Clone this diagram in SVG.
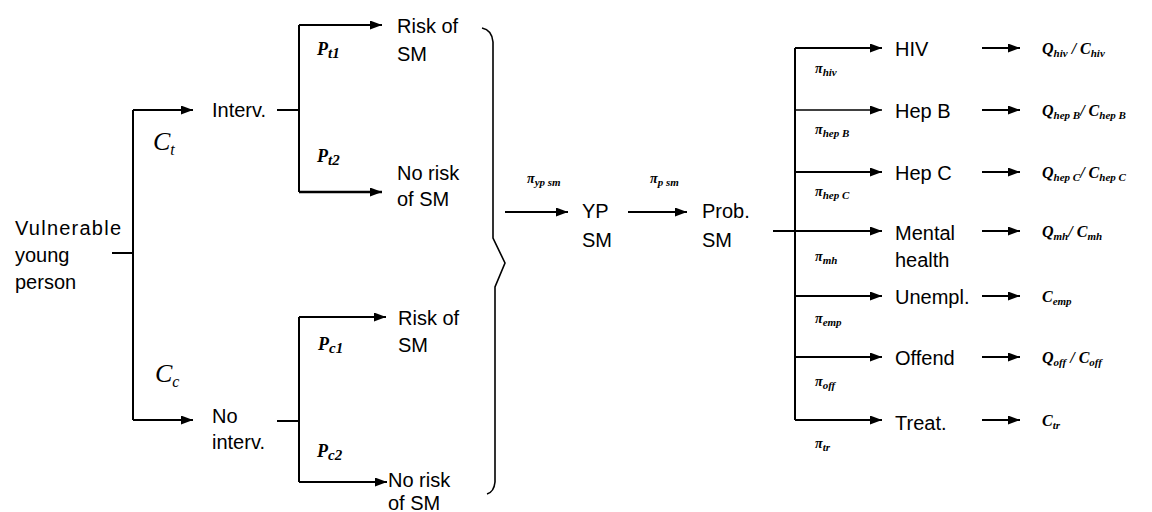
<svg xmlns="http://www.w3.org/2000/svg" width="1152" height="512" viewBox="0 0 1152 512">
<style>
.t{font-family:"Liberation Sans",Arial,sans-serif;font-size:20px;fill:#000}
.m{font-family:"Liberation Serif","Times New Roman",serif;font-style:italic;font-weight:bold;fill:#000}
.c{font-family:"Liberation Serif","Times New Roman",serif;font-style:italic;font-size:26px;fill:#000}
.l{stroke:#000;stroke-width:2;fill:none}
.a{stroke:#000;stroke-width:2;fill:none;marker-end:url(#ah)}
</style>
<defs>
<marker id="ah" markerUnits="userSpaceOnUse" markerWidth="12" markerHeight="9" refX="12" refY="4.5" orient="auto">
<path d="M0,0 L12,4.5 L0,9 Z" fill="#000"/>
</marker>
</defs>
<rect width="1152" height="512" fill="#fff"/>
<g id="connectors">
<path class="l" d="M112,253 H133"/>
<path class="l" d="M133,110 V420"/>
<path class="a" d="M133,110 H193"/>
<path class="a" d="M133,420 H193"/>
<path class="l" d="M277,110 H299"/>
<path class="l" d="M299,25 V192"/>
<path class="a" d="M299,25 H382"/>
<path class="a" d="M299,192 H382" style="stroke-width:2.6"/>
<path class="l" d="M277,421 H299"/>
<path class="l" d="M299,317 V482"/>
<path class="a" d="M299,317 H386"/>
<path class="a" d="M299,482 H387"/>
<path class="l" d="M482,28 Q492,30 493,42 V238 L505,263 L495,287 V482 Q494,492 487,494" style="stroke-width:1.6"/>
<path class="a" d="M505,212 H568"/>
<path class="a" d="M628,212 H687"/>
<path class="l" d="M773,231 H795"/>
<path class="l" d="M795,48 V420"/>
<path class="a" d="M795,48 H882"/>
<path class="a" d="M795,110 H882" style="stroke-width:1.6"/>
<path class="a" d="M795,172 H882"/>
<path class="a" d="M795,231 H882"/>
<path class="a" d="M795,296 H882"/>
<path class="a" d="M795,357 H882"/>
<path class="a" d="M795,420 H882"/>
<path class="a" d="M982,48 H1020"/>
<path class="a" d="M982,110 H1020"/>
<path class="a" d="M982,172 H1020"/>
<path class="a" d="M982,231 H1020"/>
<path class="a" d="M982,296 H1020"/>
<path class="a" d="M982,357 H1020"/>
<path class="a" d="M982,420 H1020"/>
</g>
<g id="n-vulnerable"><text class="t" x="15" y="235" textLength="106">Vulnerable</text><text class="t" x="15" y="262">young</text><text class="t" x="15" y="289">person</text></g>
<g id="n-interv"><text class="t" x="212" y="117">Interv.</text></g>
<g id="n-nointerv"><text class="t" x="212" y="423">No</text><text class="t" x="212" y="449">interv.</text></g>
<g id="l-ct"><text class="c" x="153" y="150">C<tspan font-size="16" dy="5">t</tspan></text></g>
<g id="l-cc"><text class="c" x="155" y="382">C<tspan font-size="16" dy="5">c</tspan></text></g>
<g id="n-risk1"><text class="t" x="397" y="33">Risk of</text><text class="t" x="397" y="61">SM</text></g>
<g id="n-norisk1"><text class="t" x="397" y="180">No risk</text><text class="t" x="397" y="206">of SM</text></g>
<g id="n-risk2"><text class="t" x="398" y="325">Risk of</text><text class="t" x="398" y="352">SM</text></g>
<g id="n-norisk2"><text class="t" x="388" y="487">No risk</text><text class="t" x="388" y="510">of SM</text></g>
<g id="l-p"><text class="m" x="317" y="55" font-size="18">P<tspan font-size="15" dy="3">t1</tspan></text>
<text class="m" x="317" y="162" font-size="18">P<tspan font-size="15" dy="3">t2</tspan></text>
<text class="m" x="318" y="350" font-size="18">P<tspan font-size="15" dy="3">c1</tspan></text>
<text class="m" x="317" y="457" font-size="18">P<tspan font-size="15" dy="3">c2</tspan></text></g>
<g id="l-pi"><text class="m" x="527" y="183" font-size="14">π<tspan font-size="11" dy="3">yp sm</tspan></text>
<text class="m" x="650" y="183" font-size="14">π<tspan font-size="11" dy="3">p sm</tspan></text></g>
<g id="n-ypsm"><text class="t" x="582" y="218">YP</text><text class="t" x="582" y="247">SM</text></g>
<g id="n-probsm"><text class="t" x="702" y="218">Prob.</text><text class="t" x="702" y="247">SM</text></g>
<g id="n-outcomes">
<text class="t" x="895" y="56">HIV</text>
<text class="t" x="895" y="118">Hep B</text>
<text class="t" x="895" y="180">Hep C</text>
<text class="t" x="895" y="240">Mental</text><text class="t" x="895" y="267">health</text>
<text class="t" x="895" y="304">Unempl.</text>
<text class="t" x="895" y="365">Offend</text>
<text class="t" x="895" y="430">Treat.</text>
</g>
<g id="l-pi-right">
<text class="m" x="815" y="73" font-size="14">π<tspan font-size="11" dy="3">hiv</tspan></text>
<text class="m" x="815" y="134" font-size="14">π<tspan font-size="11" dy="3">hep B</tspan></text>
<text class="m" x="815" y="196" font-size="14">π<tspan font-size="11" dy="3">hep C</tspan></text>
<text class="m" x="815" y="261" font-size="14">π<tspan font-size="11" dy="3">mh</tspan></text>
<text class="m" x="815" y="323" font-size="14">π<tspan font-size="11" dy="3">emp</tspan></text>
<text class="m" x="815" y="386" font-size="14">π<tspan font-size="11" dy="3">off</tspan></text>
<text class="m" x="815" y="448" font-size="14">π<tspan font-size="11" dy="3">tr</tspan></text>
</g>
<g id="n-values">
<text class="m" x="1042" y="54" font-size="16">Q<tspan font-size="11" dy="3">hiv</tspan><tspan dy="-3"> / C</tspan><tspan font-size="11" dy="3">hiv</tspan></text>
<text class="m" x="1042" y="116" font-size="16">Q<tspan font-size="11" dy="3">hep B</tspan><tspan dy="-3">/ C</tspan><tspan font-size="11" dy="3">hep B</tspan></text>
<text class="m" x="1042" y="178" font-size="16">Q<tspan font-size="11" dy="3">hep C</tspan><tspan dy="-3">/ C</tspan><tspan font-size="11" dy="3">hep C</tspan></text>
<text class="m" x="1042" y="237" font-size="16">Q<tspan font-size="11" dy="3">mh</tspan><tspan dy="-3">/ C</tspan><tspan font-size="11" dy="3">mh</tspan></text>
<text class="m" x="1042" y="302" font-size="16">C<tspan font-size="11" dy="3">emp</tspan></text>
<text class="m" x="1042" y="363" font-size="16">Q<tspan font-size="11" dy="3">off</tspan><tspan dy="-3"> / C</tspan><tspan font-size="11" dy="3">off</tspan></text>
<text class="m" x="1042" y="426" font-size="16">C<tspan font-size="11" dy="3">tr</tspan></text>
</g>
</svg>
